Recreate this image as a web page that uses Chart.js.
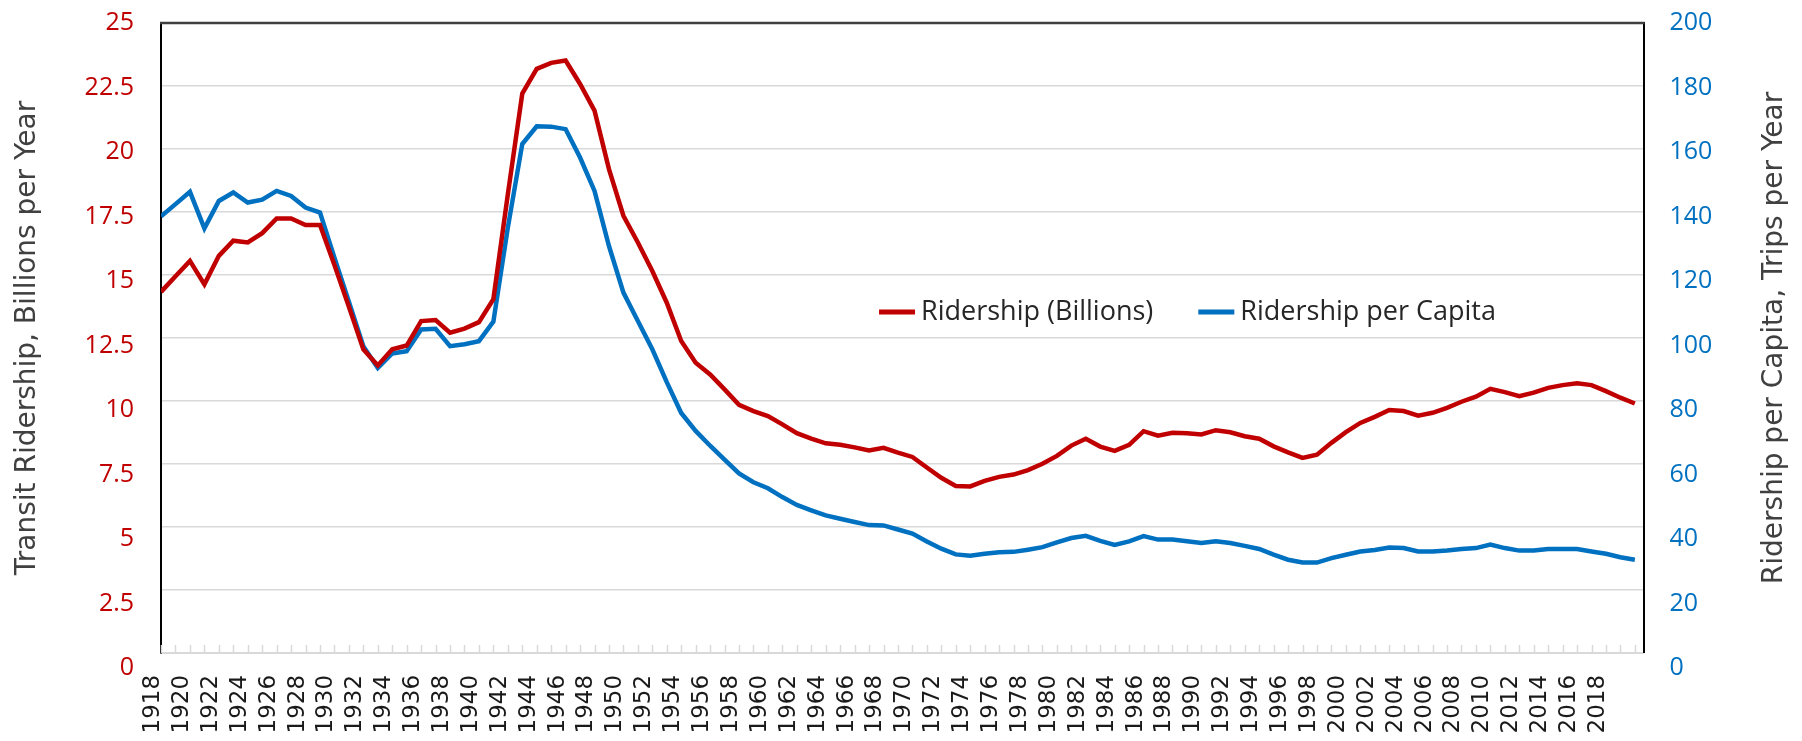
<!DOCTYPE html>
<html>
<head>
<meta charset="utf-8">
<script src="https://cdn.jsdelivr.net/npm/chart.js@4.4.1/dist/chart.umd.min.js"></script>
<style>
  html, body { margin: 0; padding: 0; background: #fff; }
</style>
</head>
<body>
<canvas id="ridershipChart" width="1802" height="741"></canvas>
<script>
const years = [
  1918, 1919, 1920, 1921, 1922, 1923, 1924, 1925, 1926, 1927,
  1928, 1929, 1930, 1931, 1932, 1933, 1934, 1935, 1936, 1937,
  1938, 1939, 1940, 1941, 1942, 1943, 1944, 1945, 1946, 1947,
  1948, 1949, 1950, 1951, 1952, 1953, 1954, 1955, 1956, 1957,
  1958, 1959, 1960, 1961, 1962, 1963, 1964, 1965, 1966, 1967,
  1968, 1969, 1970, 1971, 1972, 1973, 1974, 1975, 1976, 1977,
  1978, 1979, 1980, 1981, 1982, 1983, 1984, 1985, 1986, 1987,
  1988, 1989, 1990, 1991, 1992, 1993, 1994, 1995, 1996, 1997,
  1998, 1999, 2000, 2001, 2002, 2003, 2004, 2005, 2006, 2007,
  2008, 2009, 2010, 2011, 2012, 2013, 2014, 2015, 2016, 2017,
  2018, 2019, 2020
];

// billions of trips per year (left axis)
const ridership = [
  14.33, 14.95, 15.56, 14.63, 15.76, 16.36, 16.29, 16.66, 17.24, 17.24,
  16.98, 16.98, 15.4, 13.74, 12.05, 11.41, 12.05, 12.2, 13.17, 13.21,
  12.71, 12.87, 13.13, 14.04, 18.2, 22.2, 23.18, 23.42, 23.51, 22.58,
  21.52, 19.2, 17.35, 16.29, 15.16, 13.9, 12.38, 11.52, 11.05, 10.46,
  9.85, 9.6, 9.4, 9.07, 8.72, 8.51, 8.32, 8.26, 8.16, 8.04,
  8.14, 7.95, 7.78, 7.36, 6.95, 6.63, 6.61, 6.83, 6.99, 7.08,
  7.26, 7.51, 7.82, 8.23, 8.5, 8.19, 8.02, 8.26, 8.8, 8.62,
  8.74, 8.72, 8.67, 8.84, 8.76, 8.6, 8.5, 8.2, 7.96, 7.74,
  7.87, 8.34, 8.76, 9.13, 9.37, 9.64, 9.6, 9.42, 9.53, 9.73,
  9.97, 10.17, 10.48, 10.35, 10.19, 10.33, 10.52, 10.63, 10.7, 10.63,
  10.39, 10.13, 9.9
];

// trips per person per year (right axis)
const perCapita = [
  138.6, 142.5, 146.4, 134.8, 143.5, 146.2, 143.0, 143.9, 146.7, 145.1,
  141.4, 139.8, 125.5, 111.5, 97.4, 90.5, 95.1, 95.8, 102.7, 102.9,
  97.4, 98.0, 99.0, 105.2, 135, 161.6, 167.2, 167.1, 166.3, 157.3,
  146.7, 129.2, 114.4, 105.4, 96.4, 86, 76.2, 70.5, 65.8, 61.4,
  57, 54.2, 52.3, 49.5, 47.0, 45.3, 43.7, 42.6, 41.6, 40.6,
  40.5, 39.2, 37.9, 35.4, 33.1, 31.3, 30.9, 31.5, 32.0, 32.1,
  32.8, 33.6, 35.1, 36.5, 37.2, 35.6, 34.3, 35.4, 37.1, 36.0,
  36.0, 35.5, 34.9, 35.5, 34.9, 34.0, 33.0, 31.2, 29.6, 28.7,
  28.7, 30.1, 31.2, 32.2, 32.7, 33.5, 33.3, 32.2, 32.2, 32.5,
  33.0, 33.3, 34.4, 33.3, 32.5, 32.5, 33.0, 33.0, 33.0, 32.2,
  31.5, 30.4, 29.6
];

const yearLabels = [
  1918, 1920, 1922, 1924, 1926, 1928, 1930, 1932, 1934, 1936,
  1938, 1940, 1942, 1944, 1946, 1948, 1950, 1952, 1954, 1956,
  1958, 1960, 1962, 1964, 1966, 1968, 1970, 1972, 1974, 1976,
  1978, 1980, 1982, 1984, 1986, 1988, 1990, 1992, 1994, 1996,
  1998, 2000, 2002, 2004, 2006, 2008, 2010, 2012, 2014, 2016, 2018
];
const leftTicks = [0, 2.5, 5, 7.5, 10, 12.5, 15, 17.5, 20, 22.5, 25];
const rightTicks = [0, 20, 40, 60, 80, 100, 120, 140, 160, 180, 200];

const seriesNames = ["Ridership (Billions)", "Ridership per Capita"];
const leftTitle = "Transit Ridership, Billions per Year";
const rightTitle = "Ridership per Capita, Trips per Year";

const RED = "#C00000";
const BLUE = "#0070C0";
const TITLE_FONT = { family: "'DejaVu Sans', Verdana, sans-serif", size: 28 };
const TICK_FAMILY = "'Open Sans', sans-serif";

// In the original the value labels sit a little lower than their grid lines,
// more so toward the bottom. Each label is drawn as a two-line block whose
// first line is empty; the block height sets how far the number drops.
function droppedTickFont(c, top) {
  const v = c.tick ? c.tick.value : top;
  const block = Math.max(0.5, 30 * (top - v) / top);
  return { family: TICK_FAMILY, size: 25, lineHeight: block.toFixed(1) + "px" };
}

// extra drawing: inward year ticks, top edge, right title, legend in the plot
const chartFrame = {
  id: "chartFrame",
  afterDraw(chart) {
    const { ctx, chartArea: a, scales } = chart;
    ctx.save();

    ctx.strokeStyle = "#d9d9d9";
    ctx.lineWidth = 1.5;
    for (const yr of years) {
      const px = Math.round(scales.x.getPixelForValue(yr)) + 0.5;
      ctx.beginPath();
      ctx.moveTo(px, a.bottom);
      ctx.lineTo(px, a.bottom - 8);
      ctx.stroke();
    }

    ctx.strokeStyle = "#404040";
    ctx.lineWidth = 2.5;
    ctx.beginPath();
    ctx.moveTo(a.left - 1, a.top);
    ctx.lineTo(a.right + 1, a.top);
    ctx.stroke();

    // right title reads bottom-to-top like the left one
    const r = scales.y1;
    const tpad = r.options.title.padding;
    const lh = TITLE_FONT.size * 1.2;
    ctx.translate(r.right - tpad.top - lh / 2, (r.top + r.bottom) / 2);
    ctx.rotate(-Math.PI / 2);
    ctx.font = `${TITLE_FONT.size}px ${TITLE_FONT.family}`;
    ctx.fillStyle = "#404040";
    ctx.textAlign = "center";
    ctx.textBaseline = "middle";
    ctx.fillText(rightTitle, 0, 0);
    ctx.setTransform(1, 0, 0, 1, 0, 0);

    // legend
    ctx.font = "27px 'Open Sans', sans-serif";
    ctx.textAlign = "left";
    ctx.textBaseline = "middle";
    let lx = a.left + 718;
    const ly = a.top + 289;
    chart.data.datasets.forEach((ds) => {
      ctx.strokeStyle = ds.borderColor;
      ctx.lineWidth = 5;
      ctx.beginPath();
      ctx.moveTo(lx, ly);
      ctx.lineTo(lx + 36, ly);
      ctx.stroke();
      ctx.fillStyle = "#262626";
      ctx.fillText(ds.label, lx + 42, ly);
      lx += 42 + ctx.measureText(ds.label).width + 45;
    });

    ctx.restore();
  },
};

new Chart("ridershipChart", {
  type: "line",
  data: {
    datasets: [
      {
        label: seriesNames[0],
        data: years.map((yr, i) => ({ x: yr, y: ridership[i] })),
        yAxisID: "y",
        borderColor: RED,
        borderWidth: 4.5,
        pointRadius: 0,
        tension: 0,
      },
      {
        label: seriesNames[1],
        data: years.map((yr, i) => ({ x: yr, y: perCapita[i] })),
        yAxisID: "y1",
        borderColor: BLUE,
        borderWidth: 4.5,
        pointRadius: 0,
        tension: 0,
      },
    ],
  },
  options: {
    responsive: false,
    animation: false,
    devicePixelRatio: 1,
    layout: { padding: { top: 23, bottom: -14.5, left: 0, right: 0 } },
    plugins: {
      legend: { display: false },
      tooltip: { enabled: false },
    },
    scales: {
      x: {
        type: "linear",
        min: 1918,
        max: 2020.6,
        grid: { display: false, drawTicks: false },
        border: { display: true, color: "#d9d9d9", width: 2 },
        ticks: {
          stepSize: 1,
          autoSkip: false,
          minRotation: 90,
          maxRotation: 90,
          padding: 22,
          labelOffset: -8,
          color: "#1a1a1a",
          font: { family: "'DejaVu Sans', Verdana, sans-serif", size: 23 },
          callback: (v) => (yearLabels.includes(v) ? String(v) : ""),
        },
      },
      y: {
        position: "left",
        min: 0,
        max: 25,
        afterBuildTicks: (s) => { s.ticks = leftTicks.map((v) => ({ value: v })); },
        // invisible tick marks give the gap between labels and axis
        grid: { color: "#d9d9d9", lineWidth: 1.5, drawTicks: true, tickLength: 27, tickColor: "rgba(0,0,0,0)" },
        border: { display: true, color: "#000", width: 2 },
        ticks: {
          color: RED,
          padding: 0,
          autoSkip: false,
          font: (c) => droppedTickFont(c, 25),
          callback: (v) => ["", String(v)],
        },
        title: {
          display: true,
          text: leftTitle,
          color: "#404040",
          font: TITLE_FONT,
          padding: { top: 11, bottom: 40 },
        },
      },
      y1: {
        position: "right",
        min: 0,
        max: 200,
        afterBuildTicks: (s) => { s.ticks = rightTicks.map((v) => ({ value: v })); },
        grid: { drawOnChartArea: false, drawTicks: true, tickLength: 26, tickColor: "rgba(0,0,0,0)" },
        border: { display: true, color: "#000", width: 2 },
        ticks: {
          color: BLUE,
          padding: 0,
          autoSkip: false,
          font: (c) => droppedTickFont(c, 200),
          callback: (v) => ["", String(v)],
        },
        title: {
          display: true,
          text: rightTitle,
          color: "rgba(0,0,0,0)",
          font: TITLE_FONT,
          padding: { top: 10, bottom: 46 },
        },
      },
    },
  },
  plugins: [chartFrame],
});
</script>
</body>
</html>
